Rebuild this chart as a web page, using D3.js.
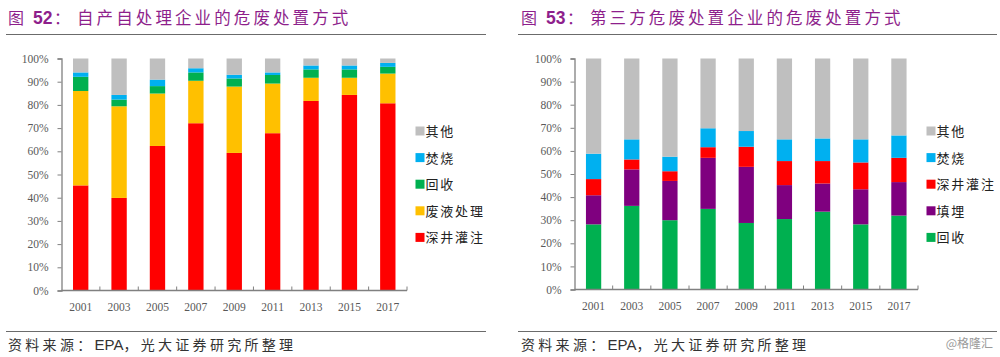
<!DOCTYPE html>
<html>
<head>
<meta charset="utf-8">
<script src="https://cdn.jsdelivr.net/npm/d3@7"></script>
<style>
html,body{margin:0;padding:0;background:#fff;}
svg{display:block;}
</style>
</head>
<body>
<svg id="chart" width="1000" height="357"></svg>
<script>
// ---------- Data ----------
const years = ["2001","2003","2005","2007","2009","2011","2013","2015","2017"];
const yTicks = [0,10,20,30,40,50,60,70,80,90,100];

// Chart 52 (self-treating enterprises), bottom to top
const c52Keys = ["深井灌注","废液处理","回收","焚烧","其他"];
const c52_deepwell = [45.3, 39.9, 62.3, 72.1, 59.3, 67.8, 81.7, 84.3, 80.7];
const c52_liquid   = [40.7, 39.5, 22.6, 18.3, 28.6, 21.4, 10.0, 7.4, 12.8];
const c52_recycle  = [6.1, 2.9, 3.2, 3.6, 3.5, 3.7, 3.6, 3.6, 2.9];
const c52_incin    = [1.9, 2.0, 2.8, 1.8, 1.6, 1.1, 1.7, 1.7, 1.7];
const c52_other    = [6.0, 15.7, 9.1, 4.2, 7.0, 6.0, 3.0, 3.0, 1.9];

// Chart 53 (third-party enterprises), bottom to top
const c53Keys = ["回收","填埋","深井灌注","焚烧","其他"];
const c53_recycle  = [28.2, 36.2, 30.0, 34.9, 28.8, 30.5, 33.7, 28.2, 32.0];
const c53_landfill = [12.6, 15.8, 17.0, 22.1, 24.3, 14.7, 12.2, 15.2, 14.5];
const c53_deepwell = [7.0, 4.3, 4.2, 4.6, 8.7, 10.4, 9.7, 11.6, 10.5];
const c53_incin    = [11.0, 8.7, 6.3, 8.2, 6.8, 9.4, 9.8, 10.0, 9.7];
const c53_other    = [41.2, 35.0, 42.5, 30.2, 31.4, 35.0, 34.6, 35.0, 33.3];

const titles = ["52", "53"];
const titleTexts = ["自产自处理企业的危废处置方式", "第三方危废处置企业的危废处置方式"];
const sourcePre = "资料来源：";
const sourceEPA = "EPA";
const sourcePost = "，光大证券研究所整理";

const colors = {
  "深井灌注":"#FF0000","废液处理":"#FFC000","回收":"#00B050","焚烧":"#00B0F0",
  "其他":"#BFBFBF","填埋":"#7F007F"
};

function buildRows(keys, arrs){
  return years.map((y,i)=>{
    const r = {year:y};
    keys.forEach((k,j)=>{ r[k]=arrs[j][i]; });
    return r;
  });
}
const rows52 = buildRows(c52Keys, [c52_deepwell,c52_liquid,c52_recycle,c52_incin,c52_other]);
const rows53 = buildRows(c53Keys, [c53_recycle,c53_landfill,c53_deepwell,c53_incin,c53_other]);

const svg = d3.select("#chart");
const serif = "'Liberation Serif','DejaVu Serif',serif";
const cjk = "'Noto Sans CJK SC','Noto Sans',sans-serif";
const sans = "'Liberation Sans',Arial,sans-serif";

function panel(opt){
  const g = svg.append("g");
  const tx = opt.titleX;
  // Title
  g.append("text").attr("x", tx).attr("y", 24).attr("fill","#8E1F8C")
    .style("font-family",cjk).style("font-size","16px").text("图");
  g.append("text").attr("x", tx+25).attr("y", 24).attr("fill","#8E1F8C")
    .style("font-family",sans).style("font-weight","bold").style("font-size","17.5px").text(opt.num);
  g.append("text").attr("x", tx+46).attr("y", 24).attr("fill","#8E1F8C")
    .style("font-family",cjk).style("font-size","16px").text("：");
  g.append("text").attr("x", tx+69).attr("y", 24).attr("fill","#8E1F8C")
    .style("font-family",cjk).style("font-size","16.5px").style("letter-spacing","3.1px").text(opt.title);
  // Lines
  g.append("line").attr("x1",opt.lineX1).attr("x2",opt.lineX2).attr("y1",34.5).attr("y2",34.5)
    .attr("stroke","#6b6b6b").attr("stroke-width",1.2);
  g.append("line").attr("x1",opt.lineX1).attr("x2",opt.lineX2).attr("y1",331.5).attr("y2",331.5)
    .attr("stroke","#6b6b6b").attr("stroke-width",1.2);
  const s = g.append("text").attr("x",tx).attr("y",350).attr("fill","#333").style("font-size","14px");
  s.append("tspan").style("font-family",cjk).style("letter-spacing","3.3px").text(sourcePre);
  s.append("tspan").style("font-family",sans).style("font-size","15px").text(sourceEPA);
  s.append("tspan").style("font-family",cjk).style("letter-spacing","3.3px").text(sourcePost);

  const x = d3.scaleBand().domain(years).range([opt.x0, opt.x1]).paddingInner(0.6).paddingOuter(0.3);
  const y = d3.scaleLinear().domain([0,100]).range([opt.yBottom, opt.yTop]);
  const stack = d3.stack().keys(opt.keys)(opt.rows);

  g.selectAll("g.layer").data(stack).join("g").attr("fill", d=>colors[d.key])
    .selectAll("rect").data(d=>d).join("rect")
    .attr("x", d=>x(d.data.year)).attr("width", x.bandwidth())
    .attr("y", d=>y(d[1])).attr("height", d=>y(d[0])-y(d[1]));

  // Y axis
  const ya = g.append("g").attr("transform",`translate(${opt.x0},0)`)
    .call(d3.axisLeft(y).tickValues(yTicks).tickFormat(d=>d+"%").tickSize(4).tickPadding(9));
  ya.select(".domain").attr("stroke","#808080").attr("stroke-width",1.3);
  ya.selectAll(".tick line").attr("stroke","#808080");
  ya.selectAll("text").style("font-family",serif).style("font-size","11.5px").attr("fill","#595959");

  // X axis: ticks at category boundaries, pointing up
  const xa = g.append("g").attr("transform",`translate(0,${opt.yBottom})`);
  xa.append("line").attr("x1",opt.x0).attr("x2",opt.x1).attr("stroke","#808080").attr("stroke-width",1.3);
  const step = x.step();
  const bounds = years.slice(1).map(yr => x(yr) - (step - x.bandwidth())/2);
  bounds.push(opt.x1);
  xa.selectAll("line.tk").data(bounds).join("line").attr("class","tk")
    .attr("x1",d=>d).attr("x2",d=>d).attr("y1",0).attr("y2",-4).attr("stroke","#808080");
  xa.selectAll("text").data(years).join("text")
    .attr("x", d=>x(d)+x.bandwidth()/2).attr("y",20).attr("text-anchor","middle")
    .style("font-family",serif).style("font-size","11.5px").attr("fill","#595959").text(d=>d);

  // Legend (top to bottom = reversed keys)
  const leg = opt.keys.slice().reverse();
  const lg = g.selectAll("g.leg").data(leg).join("g")
    .attr("transform",(d,i)=>`translate(${opt.legX},${opt.legY + i*26.6})`);
  lg.append("rect").attr("x",0).attr("y",-4.5).attr("width",9).attr("height",9).attr("fill",d=>colors[d]);
  lg.append("text").attr("x",10).attr("y",5).style("font-family",cjk).style("font-size","13px")
    .style("letter-spacing","1.8px").attr("fill","#222").text(d=>d);
}

panel({num:titles[0], title:titleTexts[0], titleX:8, lineX1:6, lineX2:486,
  x0:61.5, x1:407, yTop:58.5, yBottom:290.5, keys:c52Keys, rows:rows52, legX:415.5, legY:131});
panel({num:titles[1], title:titleTexts[1], titleX:521, lineX1:518, lineX2:997,
  x0:574.5, x1:918, yTop:58.5, yBottom:289.5, keys:c53Keys, rows:rows53, legX:926.5, legY:131});

svg.append("text").attr("x",993).attr("y",348).attr("text-anchor","end")
  .style("font-family",cjk).style("font-size","12px").attr("fill","#9a9a9a").text("@格隆汇");
</script>
</body>
</html>
